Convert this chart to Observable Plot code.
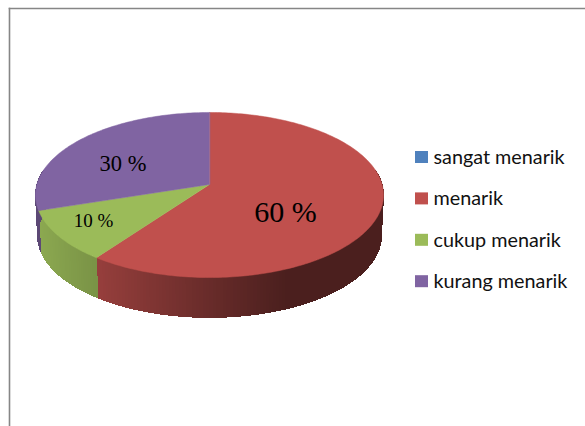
<!DOCTYPE html>
<html>
<head>
<meta charset="utf-8">
<script src="https://cdn.jsdelivr.net/npm/d3@7"></script>
<script src="https://cdn.jsdelivr.net/npm/@observablehq/plot@0.6"></script>
<style>
html,body{margin:0;padding:0;background:#fff;overflow:hidden}
</style>
</head>
<body>
<div id="chart"></div>
<script>
const categories = ["sangat menarik", "menarik", "cukup menarik", "kurang menarik"];
const values = [0, 60, 10, 30];
const colors = ["#4f81bd", "#c0504d", "#9bbb59", "#8064a2"];

// layout of the pie and its labels
const W = 585, H = 426, mL = 9, mT = 8;
const cx = 209, cyTop = 184, cyBottom = 225, Rx = 172.6, Ry = 81.2, persp = 0.1273, rim = 0.988;
const labelLayout = {
  "menarik": {r: 0.536, shift: 20, size: 30},
  "cukup menarik": {r: 0.767, shift: 2, size: 19},
  "kurang menarik": {r: 0.583, shift: -8.7, size: 22.5}
};
const shadeAt = d3.scaleLinear().domain([38, 97, 200, 285]).range([0.9, 0.78, 0.56, 0.39]).clamp(true);

// Perspective view of a disc: angle is clockwise from 12 o'clock
function project(theta, r = 1, cy = cyTop, s = 1) {
  const u = r * Math.sin(theta), v = -r * Math.cos(theta), w = 1 - persp * v;
  return {x: cx + s * Rx * u / w, y: cy + s * Ry * v / w};
}

const arcs = d3.pie().sort(null)(values).map((a, i) => ({
  ...a, category: categories[i], color: colors[i]
}));

const rad = Math.PI / 180;
const topPoints = [], sidePoints = [];
for (const a of arcs) {
  if (a.endAngle - a.startAngle <= 0) continue;
  const n = Math.ceil((a.endAngle - a.startAngle) / rad);
  const step = (a.endAngle - a.startAngle) / n;
  topPoints.push({id: a.category, color: a.color, x: cx, y: cyTop});
  for (let k = 0; k <= n; k++) {
    const t = a.startAngle + k * step;
    topPoints.push({id: a.category, color: a.color, ...project(t)});
  }
  for (let k = 0; k < n; k++) {
    const t0 = a.startAngle + k * step, t1 = t0 + step, mid = (t0 + t1) / 2;
    if (mid < 80 * rad || mid > 280 * rad) continue;
    const p0 = project(t0), p1 = project(t1);
    const q0 = project(t0, 1, cyBottom, rim), q1 = project(t1, 1, cyBottom, rim);
    const f = shadeAt(project(mid).x) * (a.category === "kurang menarik" ? 0.8 : 1);
    const base = d3.rgb(a.color);
    const color = d3.rgb(base.r * f, base.g * f, base.b * f).formatHex();
    const id = a.category + k;
    for (const p of [p0, p1, q1, q0]) sidePoints.push({id, color, ...p});
  }
}

const labels = arcs.filter(a => a.value > 0).map(a => {
  const l = labelLayout[a.category];
  const p = project((a.startAngle + a.endAngle) / 2 + l.shift * rad, l.r);
  return {...p, text: `${a.value} %`, size: l.size};
});

const legend = categories.map((c, i) => ({
  category: c, color: colors[i], x: 415, xEnd: 428, xText: 433,
  y: 157 + i * 41.4
}));

const plot = Plot.plot({
  width: W, height: H,
  marginLeft: mL, marginTop: mT, marginRight: 0, marginBottom: 0,
  x: {domain: [mL, W], axis: null},
  y: {domain: [mT, H], range: [mT, H], axis: null},
  color: {type: "identity"},
  marks: [
    Plot.frame({anchor: "top", stroke: "#868686", strokeWidth: 1.6, strokeOpacity: 1}),
    Plot.frame({anchor: "left", stroke: "#868686", strokeWidth: 1.6, strokeOpacity: 1}),
    Plot.line(sidePoints, {x: "x", y: "y", z: "id", fill: "color", stroke: "color", strokeWidth: 1, curve: "linear-closed", shapeRendering: "crispEdges"}),
    Plot.line(topPoints, {x: "x", y: "y", z: "id", fill: "color", stroke: "color", strokeWidth: 0.5, curve: "linear-closed"}),
    Plot.text(labels, {x: "x", y: "y", text: "text", fontSize: "size", fontFamily: "Liberation Serif", fill: "#000", textAnchor: "middle", lineAnchor: "middle"}),
    Plot.rect(legend, {x1: "x", x2: "xEnd", y1: d => d.y - 6, y2: d => d.y + 6, fill: "color"}),
    Plot.text(legend, {x: "xText", y: "y", text: "category", fontSize: 19.8, fontFamily: "Lato", fill: "#111", textAnchor: "start", lineAnchor: "middle"})
  ]
});
document.getElementById("chart").appendChild(plot);
</script>
</body>
</html>
